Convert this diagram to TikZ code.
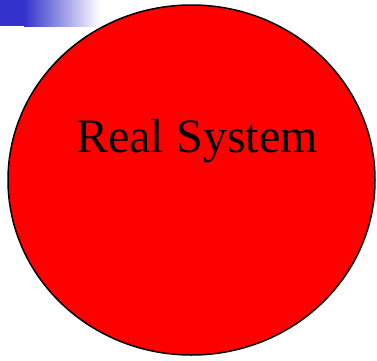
\documentclass[tikz,border=0pt]{standalone}
\usepackage{fontspec}
\setmainfont{Liberation Serif}
\definecolor{barblue}{RGB}{51,51,204}
\begin{document}
\begin{tikzpicture}[x=1pt,y=1pt,
  sys/.style={draw=black,line width=1.5pt,fill=red},
  lbl/.style={font=\fontsize{48}{52}\selectfont,text=black,anchor=base}]
\useasboundingbox (0,0) rectangle (377,360);
\fill[barblue] (0,360) rectangle (24,334);
\shade[left color=barblue,right color=white] (24,360) rectangle (100,334);
\draw[sys] (191.5,180) ellipse [x radius=183.5, y radius=175];
\node[lbl] (real) at (197,208) {Real System};
\end{tikzpicture}
\end{document}
